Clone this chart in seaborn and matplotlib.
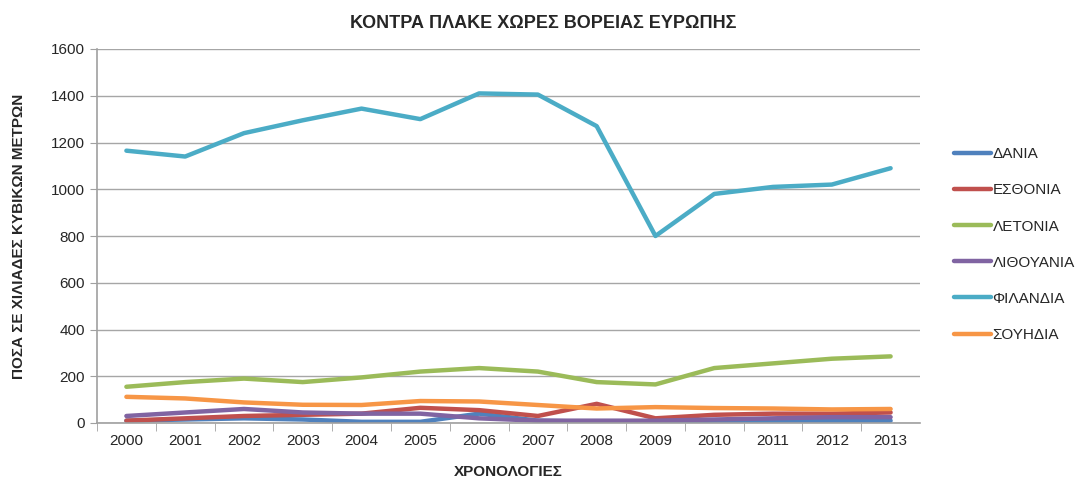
import pandas as pd
import matplotlib.pyplot as plt
import seaborn as sns

years = list(range(2000, 2014))
countries = ["ΔΑΝΙΑ", "ΕΣΘΟΝΙΑ", "ΛΕΤΟΝΙΑ", "ΛΙΘΟΥΑΝΙΑ", "ΦΙΛΑΝΔΙΑ", "ΣΟΥΗΔΙΑ"]

denmark = [10, 15, 20, 15, 5, 5, 40, 10, 5, 5, 10, 10, 10, 10]
estonia = [10, 20, 30, 35, 40, 65, 55, 30, 82, 20, 35, 40, 40, 45]
latvia = [155, 175, 190, 175, 195, 220, 235, 220, 175, 165, 235, 255, 275, 285]
lithuania = [30, 45, 60, 45, 40, 40, 20, 10, 10, 10, 15, 20, 25, 25]
finland = [1165, 1140, 1240, 1295, 1345, 1300, 1410, 1405, 1270, 800, 980, 1010, 1020, 1090]
sweden = [112, 105, 88, 78, 77, 94, 92, 77, 62, 68, 64, 62, 58, 60]

colors = ["#4F81BD", "#C0504D", "#9BBB59", "#8064A2", "#4BACC6", "#F79646"]

series = [denmark, estonia, latvia, lithuania, finland, sweden]
df = pd.DataFrame({
    "year": years * len(countries),
    "country": [c for c in countries for _ in years],
    "value": [v for s in series for v in s],
})

sns.set_style("white")
plt.rcParams['font.family'] = ['Liberation Sans', 'DejaVu Sans']

fig = plt.figure(figsize=(10.86, 4.88), dpi=100)
ax = fig.add_axes([97 / 1086, 1 - 423 / 488, 823 / 1086, 374 / 488])

sns.lineplot(data=df, x="year", y="value", hue="country", hue_order=countries,
             palette=colors, linewidth=3.2, ax=ax)

ax.set_xlim(1999.5, 2013.5)
ax.set_ylim(0, 1600)
ax.set_yticks(range(0, 1601, 200))
ax.set_xticks(years)
ax.set_xticks([y + 0.5 for y in years[:-1]] + [1999.5], minor=True)
ax.tick_params(axis="x", which="major", length=0, labelsize=11, pad=8)
ax.tick_params(axis="x", which="minor", length=6, color="#A0A0A0", direction="out", bottom=True)
ax.tick_params(axis="y", length=5, color="#A0A0A0", direction="out", labelsize=11, left=True)
ax.grid(axis="y", color="#A6A6A6", linewidth=1)
ax.set_axisbelow(True)
for s in ["top", "right"]:
    ax.spines[s].set_visible(False)
for s in ["left", "bottom"]:
    ax.spines[s].set_color("#A0A0A0")
    ax.spines[s].set_linewidth(1.2)

ax.set_xlabel("ΧΡΟΝΟΛΟΓΙΕΣ", fontsize=11, fontweight="bold", labelpad=12)
ax.set_ylabel("ΠΟΣΑ ΣΕ ΧΙΛΙΑΔΕΣ ΚΥΒΙΚΩΝ ΜΕΤΡΩΝ", fontsize=11, fontweight="bold", labelpad=18)
fig.suptitle("ΚΟΝΤΡΑ ΠΛΑΚΕ ΧΩΡΕΣ ΒΟΡΕΙΑΣ ΕΥΡΩΠΗΣ", fontsize=13, fontweight="bold", y=0.97)

ax.legend(title=None, frameon=False, loc="center left", bbox_to_anchor=(1.025, 0.477),
          fontsize=11, handlelength=2.4, handletextpad=0.1, labelspacing=1.45)

fig.savefig("out.png", dpi=100)
